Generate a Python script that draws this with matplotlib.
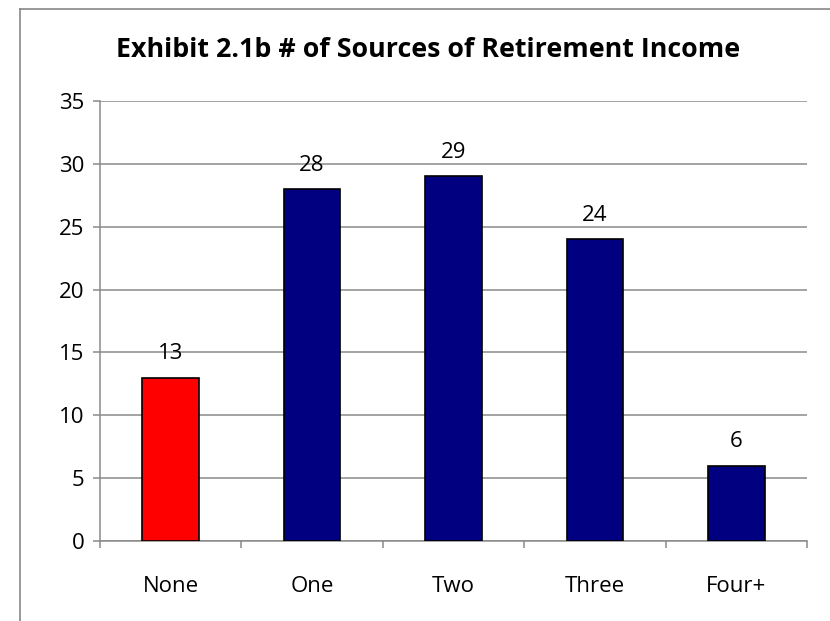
import matplotlib.pyplot as plt
from matplotlib.lines import Line2D

categories = ["None", "One", "Two", "Three", "Four+"]
values = [13, 28, 29, 24, 6]
colors = ["#FF0000", "#000080", "#000080", "#000080", "#000080"]
title = "Exhibit 2.1b # of Sources of Retirement Income"

plt.rcParams['font.family'] = ['Open Sans', 'DejaVu Sans']

fig = plt.figure(figsize=(8.3, 6.21), dpi=100)
ax = fig.add_axes([100 / 830, 80 / 621, 707 / 830, 440 / 621])

x = list(range(len(categories)))
ax.bar(x, values, width=0.4, color=colors, edgecolor="black", linewidth=1.2, zorder=3)

for xi, v in zip(x, values):
    ax.annotate(str(v), (xi, v), xytext=(0, 9.5), textcoords="offset points",
                ha="center", va="bottom", fontsize=16)

ax.set_xlim(-0.5, len(categories) - 0.5)
ax.set_ylim(0, 35)
ax.set_yticks(range(0, 36, 5))
ax.yaxis.grid(True, color="#8a8a8a", linewidth=1.1, zorder=0)
ax.set_xticks(x)
ax.set_xticklabels(categories, fontsize=16)
ax.set_xticks([i - 0.5 for i in range(len(categories) + 1)], minor=True)
ax.tick_params(axis="x", which="major", length=0, pad=25)
ax.tick_params(axis="x", which="minor", length=5, color="#8a8a8a", width=1.1)
ax.tick_params(axis="y", length=5, color="#8a8a8a", width=1.1, labelsize=16, pad=6)

for side in ["top", "right"]:
    ax.spines[side].set_visible(False)
for side in ["left", "bottom"]:
    ax.spines[side].set_color("#8a8a8a")
    ax.spines[side].set_linewidth(1.1)

fig.text(428 / 830, 1 - 50 / 621, title, ha="center", va="center",
         fontsize=19.3, fontweight="bold")

# chart frame (cropped at right and bottom)
fig.add_artist(Line2D([20 / 830, 20 / 830], [0, 1 - 9 / 621], color="#878787", linewidth=1.2,
                      transform=fig.transFigure))
fig.add_artist(Line2D([20 / 830, 1], [1 - 9 / 621, 1 - 9 / 621], color="#878787", linewidth=1.2,
                      transform=fig.transFigure))

fig.savefig("out.png", dpi=100)
